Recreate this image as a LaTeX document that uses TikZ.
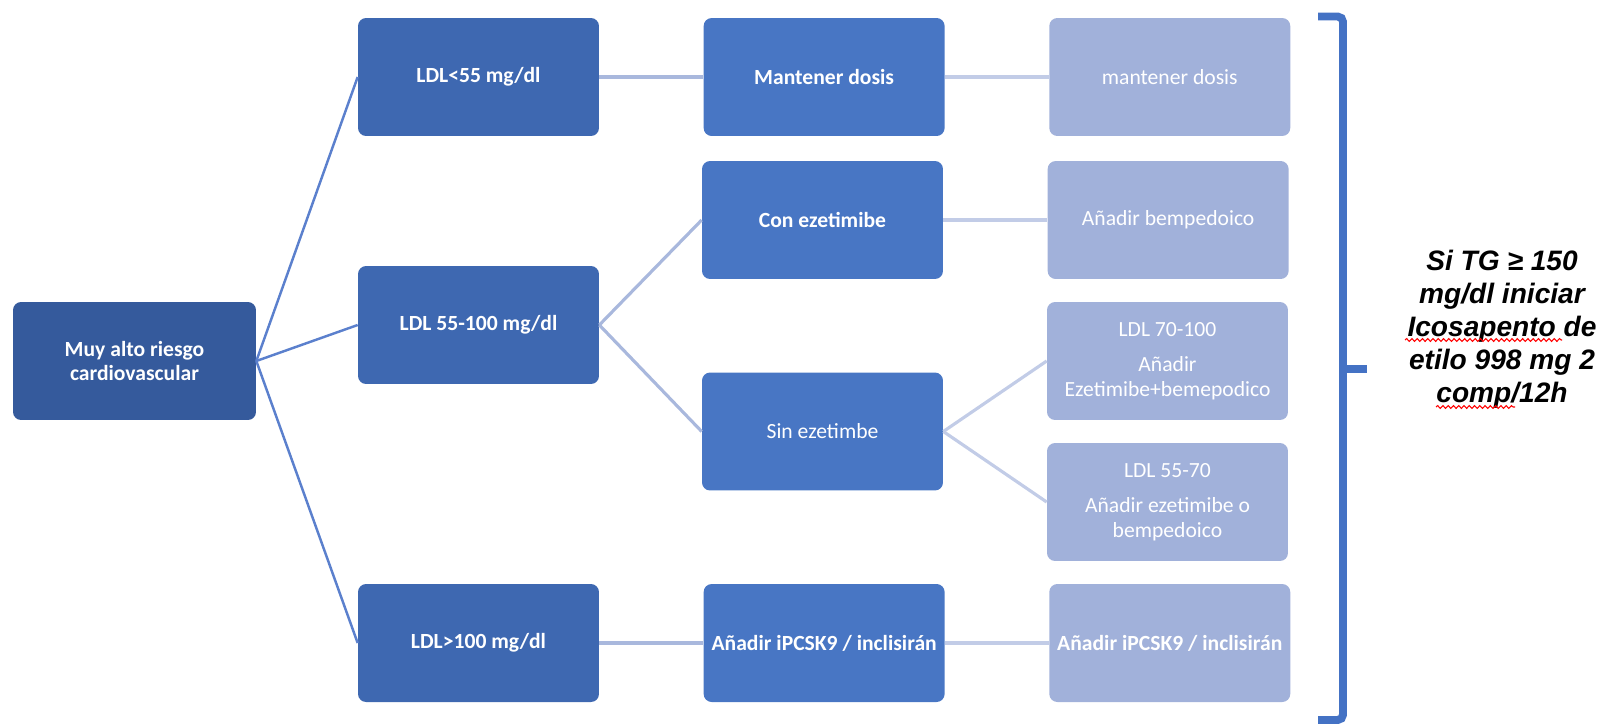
\documentclass[tikz,border=0pt]{standalone}
\usepackage{fontspec}
\setmainfont{Carlito}
\newfontfamily\notefont{Liberation Sans}
\usetikzlibrary{positioning, calc, decorations.pathmorphing}
\definecolor{navy}{HTML}{355A9C}
\definecolor{steel}{HTML}{3E68B1}
\definecolor{midblue}{HTML}{4876C4}
\definecolor{paleblue}{HTML}{A1B1DA}
\definecolor{bracketblue}{HTML}{4472C4}
\definecolor{linkdark}{HTML}{5B80CD}
\definecolor{linkmid}{HTML}{A9B8DD}
\definecolor{linklight}{HTML}{C2CCE7}
\newcommand\boxfont{\fontsize{12.3}{13.8}\selectfont}
\tikzset{
  block/.style={rectangle, rounded corners=0.16cm, fill=midblue, text=white,
    minimum width=4.82cm, minimum height=2.36cm, inner sep=2pt, align=center, font=\boxfont},
  heavy/.style={font=\boxfont\bfseries},
  blockRoot/.style={block, heavy, fill=navy, minimum width=4.86cm},
  blockOne/.style={block, heavy, fill=steel},
  blockTwo/.style={block, fill=midblue},
  blockThree/.style={block, fill=paleblue},
  linkA/.style={draw=linkdark, line width=1.4pt},
  linkB/.style={draw=linkmid, line width=1.8pt},
  linkC/.style={draw=linklight, line width=1.8pt},
  bracket/.style={draw=bracketblue, line width=4.5pt},
  note/.style={align=center, text=black, font=\notefont\bfseries\itshape\fontsize{16}{18.8}\selectfont},
  spell/.style={draw=red, line width=0.6pt, decorate, decoration={snake, amplitude=0.8pt, segment length=3pt}},
}

\begin{document}
\begin{tikzpicture}[x=0.02cm, y=-0.02cm, node distance=2.08cm]
\useasboundingbox (0,0) rectangle (1606,724);
% first two levels
\node[blockRoot] (root) at (134.5,361) {Muy alto riesgo\\cardiovascular};
\node[blockOne] (ldlA) at (478.5,77) {LDL<55 mg/dl};
\node[blockOne] (ldlB) at (478.5,325) {LDL 55-100 mg/dl};
\node[blockOne] (ldlC) at (478.5,643) {LDL>100 mg/dl};
\node[blockTwo, heavy, right=of ldlA] (mant) {Mantener dosis};
\node[blockTwo, heavy] (con) at (822.5,220) {Con ezetimibe};
\node[blockTwo] (sin) at (822.5,431.5) {Sin ezetimbe};
\node[blockTwo, heavy, right=of ldlC] (ipcA) {Añadir iPCSK9 / inclisirán};
% last level
\node[blockThree, right=of mant] (mant2) {mantener dosis};
\node[blockThree, right=of con] (bemp) {Añadir bempedoico};
\node[blockThree] (ldlD) at (1167.5,361) {LDL 70-100\\[6.5pt]Añadir\\Ezetimibe+bemepodico};
\node[blockThree] (ldlE) at (1167.5,502) {LDL 55-70\\[6.5pt]Añadir ezetimibe o\\bempedoico};
\node[blockThree, heavy, right=of ipcA] (ipcB) {Añadir iPCSK9 / inclisirán};
\draw[linkA] (root.east) -- (ldlA.west);
\draw[linkA] (root.east) -- (ldlB.west);
\draw[linkA] (root.east) -- (ldlC.west);
\draw[linkB] (ldlA) -- (mant);
\draw[linkB] (ldlB.east) -- (con.west);
\draw[linkB] (ldlB.east) -- (sin.west);
\draw[linkB] (ldlC) -- (ipcA);
\draw[linkC] (mant) -- (mant2);
\draw[linkC] (con) -- (bemp);
\draw[linkC] (sin.east) -- (ldlD.west);
\draw[linkC] (sin.east) -- (ldlE.west);
\draw[linkC] (ipcA) -- (ipcB);
% bracket and note
\coordinate (brTop) at (1318,16.5);
\coordinate (brBot) at (1318,720);
\coordinate (brTip) at (1367,369);
\draw[bracket, rounded corners=3pt] (brTop) -| (1343,720) -- (brBot);
\draw[bracket] (1343,369) -- (brTip);
\node[note] (note) at (1502,329) {Si TG ≥ 150\\mg/dl iniciar\\Icosapento de\\etilo 998 mg 2\\comp/12h};
\draw[spell] ($(note.center)+(-97,11)$) -- ($(note.center)+(60,11)$);
\draw[spell] ($(note.center)+(-66,78)$) -- ($(note.center)+(13,78)$);
\end{tikzpicture}
\end{document}
